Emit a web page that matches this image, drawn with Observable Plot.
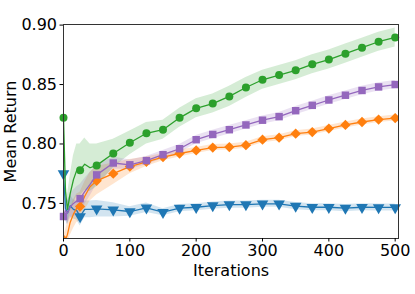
<!DOCTYPE html>
<html>
<head>
<meta charset="utf-8">
<script src="https://cdn.jsdelivr.net/npm/d3@7"></script>
<script src="https://cdn.jsdelivr.net/npm/@observablehq/plot@0.6"></script>
<style>
  html, body { margin: 0; padding: 0; background: #fff; }
</style>
</head>
<body>
<div id="chart"></div>
<script>
// ---- data ----
const iterations = [0,3,6,10,15,20,25,32,40,50,75,100,125,150,175,200,225,250,275,300,325,350,375,400,425,450,475,500];

const seriesNames = ["S1", "S2", "S3", "S4"];

const s1Mean = [0.775,0.746,0.742,0.748,0.745,0.744,0.739,0.745,0.745,0.7455,0.7446,0.7432,0.7463,0.7426,0.746,0.7468,0.7482,0.749,0.749,0.7497,0.7497,0.7477,0.7468,0.7468,0.746,0.7468,0.7466,0.7466];
const s1Spread = [0.004,0.010,0.010,0.009,0.008,0.008,0.008,0.007,0.007,0.007,0.006,0.004,0.004,0.003,0.003,0.003,0.003,0.003,0.003,0.003,0.003,0.003,0.003,0.003,0.003,0.003,0.003,0.003];

const s2Mean = [0.7195,0.719,0.724,0.734,0.741,0.746,0.7474,0.756,0.764,0.769,0.775,0.781,0.785,0.789,0.792,0.7946,0.797,0.7974,0.799,0.8036,0.8053,0.8087,0.810,0.813,0.816,0.8185,0.8205,0.8218];
const s2Spread = [0.004,0.008,0.010,0.011,0.012,0.012,0.012,0.012,0.012,0.012,0.009,0.006,0.004,0.003,0.003,0.0025,0.0025,0.0025,0.0025,0.0025,0.0025,0.0025,0.0025,0.0025,0.0025,0.0025,0.0025,0.0025];

const s3Mean = [0.822,0.760,0.745,0.758,0.770,0.778,0.778,0.783,0.780,0.782,0.792,0.801,0.809,0.812,0.822,0.830,0.834,0.840,0.8475,0.854,0.858,0.862,0.867,0.871,0.876,0.881,0.886,0.8896];
const s3Spread = [0.003,0.010,0.012,0.015,0.020,0.022,0.022,0.022,0.020,0.018,0.012,0.010,0.009,0.008,0.008,0.008,0.008,0.0085,0.0085,0.008,0.008,0.008,0.008,0.008,0.008,0.008,0.008,0.008];

const s4Mean = [0.739,0.744,0.742,0.747,0.750,0.752,0.754,0.760,0.766,0.774,0.784,0.7825,0.786,0.791,0.796,0.8036,0.808,0.812,0.816,0.820,0.823,0.828,0.8325,0.837,0.841,0.845,0.848,0.850];
const s4Spread = [0.005,0.008,0.010,0.010,0.011,0.012,0.012,0.011,0.010,0.008,0.005,0.004,0.0035,0.0035,0.0035,0.0035,0.0035,0.0035,0.0035,0.0035,0.0035,0.0035,0.0035,0.0035,0.0035,0.0035,0.0035,0.0035];

const markerEvery = 25;
const xTicks = [0, 100, 200, 300, 400, 500];
const yTicks = [0.75, 0.80, 0.85, 0.90];
const xLabel = "Iterations";
const yLabel = "Mean Return";

// ---- styles ----
const colors = ["#1f77b4", "#ff7f0e", "#2ca02c", "#9467bd"];
const markerStyle = {
  S1: {symbol: "triangle", rotate: 180, r: 4.3, clip: false},
  S2: {symbol: "square",   rotate: 45,  r: 4.1, clip: true},
  S3: {symbol: "circle",   rotate: 0,   r: 4.0, clip: false},
  S4: {symbol: "square",   rotate: 0,   r: 4.2, clip: false}
};

const means = {S1: s1Mean, S2: s2Mean, S3: s3Mean, S4: s4Mean};
const spreads = {S1: s1Spread, S2: s2Spread, S3: s3Spread, S4: s4Spread};

const rows = [];
for (const s of seriesNames) {
  iterations.forEach((it, i) => {
    rows.push({series: s, iter: it, mean: means[s][i], lo: means[s][i] - spreads[s][i], hi: means[s][i] + spreads[s][i]});
  });
}

const marks = [];
for (const s of seriesNames) {
  const d = rows.filter(r => r.series === s);
  marks.push(Plot.areaY(d, {x: "iter", y1: "lo", y2: "hi", fill: "series", fillOpacity: 0.2, clip: true}));
}
for (const s of seriesNames) {
  const d = rows.filter(r => r.series === s);
  const m = markerStyle[s];
  marks.push(Plot.lineY(d, {x: "iter", y: "mean", stroke: "series", strokeWidth: 1.3, clip: true}));
  marks.push(Plot.dot(d.filter(r => r.iter % markerEvery === 0), {
    x: "iter", y: "mean", fill: "series", symbol: () => m.symbol, r: m.r, rotate: m.rotate, stroke: null, clip: m.clip
  }));
}

const chart = Plot.plot({
  width: 415,
  height: 294,
  marginLeft: 63,
  marginRight: 17,
  marginTop: 24,
  marginBottom: 56,
  style: {fontFamily: "DejaVu Sans", fontSize: "16px", color: "#000", background: "#fff"},
  x: {domain: [0, 505], ticks: xTicks, tickSize: 3.5, tickPadding: 3, label: null},
  y: {domain: [0.7205, 0.9005], ticks: yTicks, tickFormat: d3.format(".2f"), tickSize: 3.5, tickPadding: 3, label: null},
  color: {domain: seriesNames, range: colors},
  symbol: {type: "identity"},
  marks: [
    ...marks,
    Plot.frame({stroke: "#333", strokeWidth: 1}),
    Plot.axisX({ticks: xTicks, tickSize: 3.5, tickPadding: 3, fontSize: 16, label: xLabel, labelAnchor: "center", labelOffset: 37, labelArrow: "none"}),
    Plot.axisY({ticks: yTicks, tickFormat: d3.format(".2f"), tickSize: 3.5, tickPadding: 3, fontSize: 16, label: yLabel, labelAnchor: "center", labelOffset: 59, labelArrow: "none"})
  ]
});
document.getElementById("chart").appendChild(chart);
</script>
</body>
</html>
